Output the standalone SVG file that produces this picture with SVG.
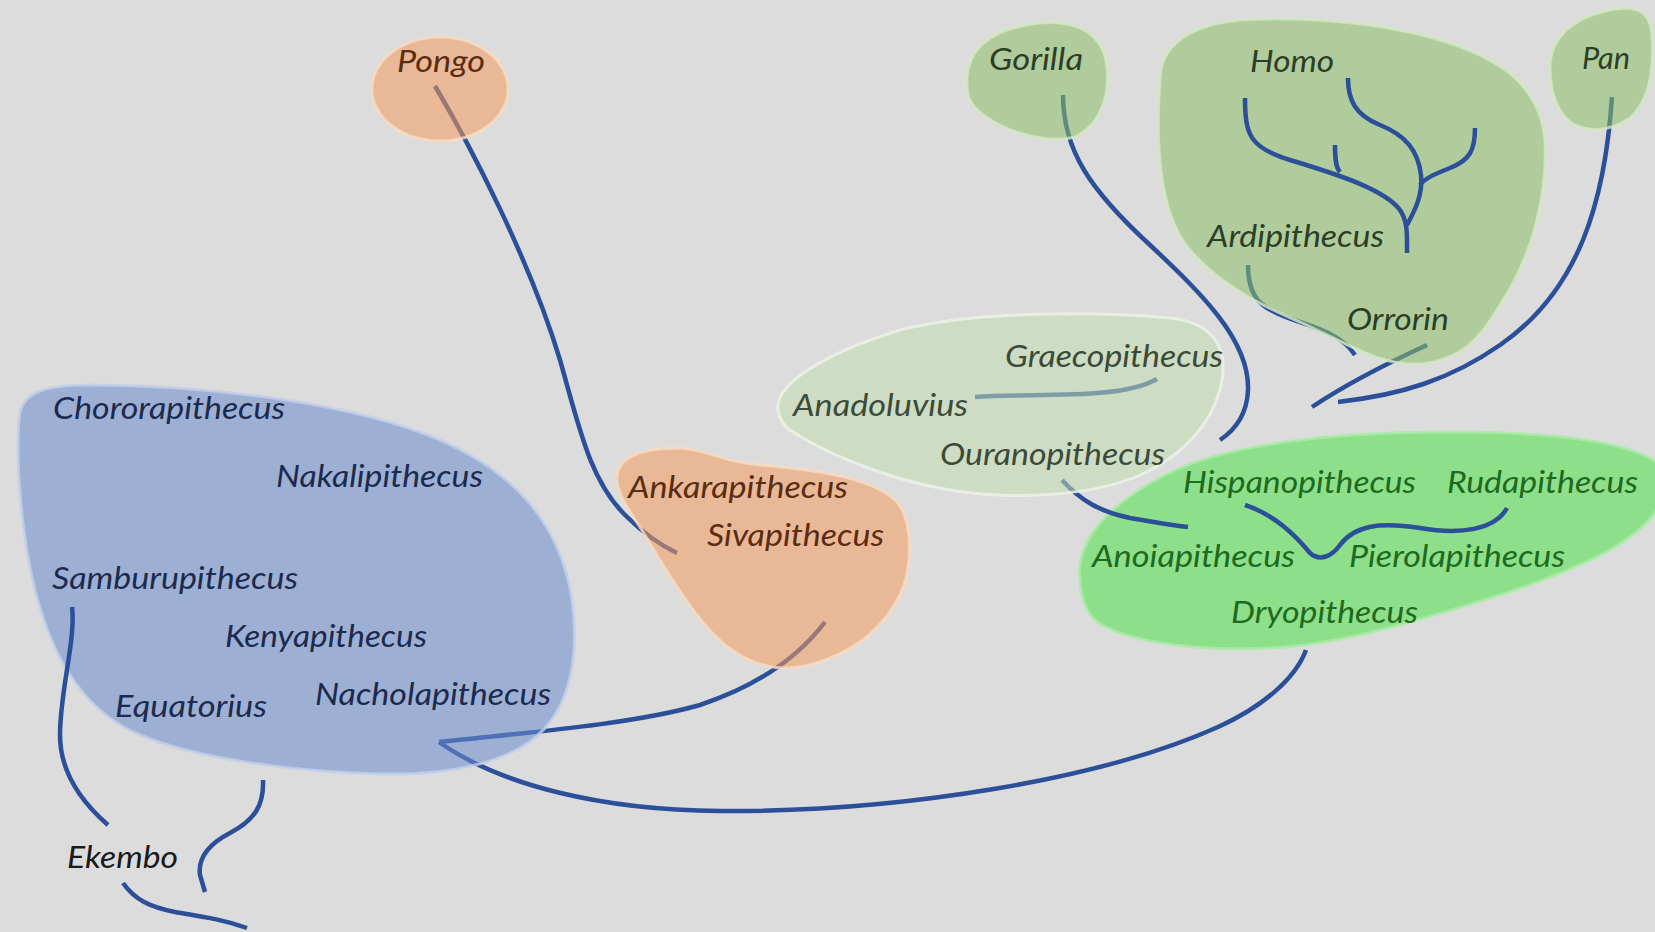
<svg xmlns="http://www.w3.org/2000/svg" width="1655" height="932" viewBox="0 0 1655 932">
<defs>
<style>
.bg{fill:#dcdcdc}
.blob{stroke-width:3;stroke-opacity:0.8}
.blue{fill:#698ccd;fill-opacity:0.55;stroke:#c3d0ea}
.orange{fill:#f49b5c;fill-opacity:0.55;stroke:#f8dcc2}
.green{fill:#8cbf68;fill-opacity:0.55;stroke:#d4e8c4}
.pale{fill:#c1dcaf;fill-opacity:0.55;stroke:#eef4e8}
.bright{fill:#8ddf8a;stroke:#a9eca6}
.l{fill:none;stroke:#2b4f99;stroke-width:4.5;stroke-linecap:butt}
text{font-family:Lato,"Open Sans","Liberation Sans",sans-serif;font-style:italic;font-size:30px}
.tb{fill:#1c2a4d}
.to{fill:#5a2c12}
.tg{fill:#2c3f26}
.tp{fill:#3b4b38}
.tbr{fill:#1e6a1e}
.tk{fill:#1a1a1a}
</style>
</defs>
<rect class="bg" x="0" y="0" width="1655" height="932"/>

<g id="node-dryopithecus-group">
<path class="blob bright" d="M1080,580 C1075,540 1110,500 1180,468 C1250,440 1350,432 1450,432 C1550,432 1630,440 1660,465 L1660,505 C1640,540 1590,565 1500,595 C1420,620 1340,645 1270,648 C1190,652 1120,640 1095,620 C1085,610 1081,595 1080,580 Z"/>
<text class="tbr" x="1183" y="493" textLength="233" lengthAdjust="spacingAndGlyphs">Hispanopithecus</text>
<text class="tbr" x="1447" y="493" textLength="191" lengthAdjust="spacingAndGlyphs">Rudapithecus</text>
<text class="tbr" x="1092" y="567" textLength="203" lengthAdjust="spacingAndGlyphs">Anoiapithecus</text>
<text class="tbr" x="1349" y="567" textLength="216" lengthAdjust="spacingAndGlyphs">Pierolapithecus</text>
<text class="tbr" x="1231" y="623" textLength="187" lengthAdjust="spacingAndGlyphs">Dryopithecus</text>
</g>

<g id="connectors">
<path class="l" d="M435,86 C470,145 530,260 560,360 C580,430 590,480 625,515 C645,535 660,545 677,553"/>
<path class="l" d="M825,622 C800,655 760,685 700,705 C630,725 520,733 439,742"/>
<path class="l" d="M439,742 C500,785 600,810 720,811 C900,812 1100,780 1218,727 C1260,708 1295,680 1306,650"/>
<path class="l" d="M1063,95 C1063,150 1090,190 1150,245 C1200,292 1250,340 1248,390 C1247,415 1235,430 1220,440"/>
<path class="l" d="M975,397 C1040,393 1120,400 1157,379"/>
<path class="l" d="M1062,480 C1080,500 1100,512 1130,518 C1155,522 1170,525 1188,527"/>
<path class="l" d="M1248,265 C1248,300 1262,310 1300,322 C1330,332 1345,340 1355,355"/>
<path class="l" d="M1427,345 C1390,362 1345,385 1312,407"/>
<path class="l" d="M1612,97 C1605,200 1580,290 1500,345 C1450,380 1400,395 1338,402"/>
</g>

<g id="node-pongo">
<ellipse class="blob orange" cx="440" cy="89" rx="68" ry="52"/>
<text class="to" x="397" y="72" textLength="88" lengthAdjust="spacingAndGlyphs">Pongo</text>
</g>

<g id="node-sivapithecus-group">
<path class="blob orange" d="M617,477 C618,460 635,448 680,448 C710,450 720,462 760,465 C820,470 870,478 895,500 C915,520 912,570 900,595 C885,625 860,650 810,665 C770,675 735,660 705,625 C680,595 660,560 640,527 C625,505 616,490 617,477 Z"/>
<text class="to" x="628" y="498" textLength="220" lengthAdjust="spacingAndGlyphs">Ankarapithecus</text>
<text class="to" x="707" y="546" textLength="177" lengthAdjust="spacingAndGlyphs">Sivapithecus</text>
</g>

<g id="node-african-group">
<path class="blob blue" d="M20,412 C25,392 45,385 90,385 C200,385 330,400 420,432 C510,465 560,520 572,600 C580,660 570,720 520,748 C480,770 430,775 380,774 C300,772 200,760 140,735 C80,710 50,650 35,590 C20,530 15,450 20,412 Z"/>
<text class="tb" x="53" y="419" textLength="232" lengthAdjust="spacingAndGlyphs">Chororapithecus</text>
<text class="tb" x="276" y="487" textLength="207" lengthAdjust="spacingAndGlyphs">Nakalipithecus</text>
<text class="tb" x="52" y="589" textLength="246" lengthAdjust="spacingAndGlyphs">Samburupithecus</text>
<text class="tb" x="225" y="647" textLength="202" lengthAdjust="spacingAndGlyphs">Kenyapithecus</text>
<text class="tb" x="115" y="717" textLength="152" lengthAdjust="spacingAndGlyphs">Equatorius</text>
<text class="tb" x="315" y="705" textLength="236" lengthAdjust="spacingAndGlyphs">Nacholapithecus</text>
</g>

<g id="node-ekembo">
<text class="tk" x="67" y="868" textLength="111" lengthAdjust="spacingAndGlyphs">Ekembo</text>
</g>

<g id="node-ouranopithecus-group">
<path class="blob pale" d="M778,410 C775,385 820,355 900,330 C980,310 1100,312 1170,318 C1210,322 1228,345 1222,380 C1215,420 1185,455 1140,475 C1090,497 1010,500 950,490 C880,478 820,450 790,430 C782,424 779,418 778,410 Z"/>
<text class="tp" x="1005" y="367" textLength="218" lengthAdjust="spacingAndGlyphs">Graecopithecus</text>
<text class="tp" x="793" y="416" textLength="175" lengthAdjust="spacingAndGlyphs">Anadoluvius</text>
<text class="tp" x="940" y="465" textLength="225" lengthAdjust="spacingAndGlyphs">Ouranopithecus</text>
</g>

<g id="node-gorilla">
<path class="blob green" d="M967,85 C965,50 990,28 1040,23 C1080,20 1100,35 1106,60 C1112,95 1100,125 1075,137 C1045,145 1000,130 980,112 C970,105 967,95 967,85 Z"/>
<text class="tg" x="989" y="70" textLength="94" lengthAdjust="spacingAndGlyphs">Gorilla</text>
</g>

<g id="node-hominin-group">
<path class="blob green" d="M1160,80 C1160,45 1190,25 1240,20 C1300,16 1380,22 1440,40 C1500,58 1540,85 1545,140 C1548,200 1530,260 1500,305 C1480,340 1460,360 1420,364 C1380,366 1350,345 1300,322 C1260,305 1220,285 1190,250 C1160,215 1155,150 1160,80 Z"/>
<text class="tg" x="1250" y="72" textLength="84" lengthAdjust="spacingAndGlyphs">Homo</text>
<text class="tg" x="1207" y="247" textLength="177" lengthAdjust="spacingAndGlyphs">Ardipithecus</text>
<text class="tg" x="1347" y="330" textLength="102" lengthAdjust="spacingAndGlyphs">Orrorin</text>
</g>

<g id="node-pan">
<path class="blob green" d="M1550,67 C1550,40 1570,18 1610,10 C1635,5 1650,10 1652,35 C1654,70 1650,100 1630,118 C1610,132 1585,133 1570,122 C1556,110 1550,90 1550,67 Z"/>
<text class="tg" x="1582" y="69" textLength="48" lengthAdjust="spacingAndGlyphs">Pan</text>
</g>

<g id="connectors-top">
<path class="l" d="M1245,98 C1245,135 1250,148 1290,160 C1340,175 1385,190 1400,210 C1408,222 1407,235 1407,253"/>
<path class="l" d="M1335,145 C1335,160 1336,168 1340,172"/>
<path class="l" d="M1348,78 C1348,100 1355,115 1380,125 C1405,135 1418,150 1421,175 C1423,195 1415,210 1407,225"/>
<path class="l" d="M1475,128 C1475,150 1470,160 1450,168 C1435,174 1425,178 1420,185"/>
<path class="l" d="M1245,505 C1275,515 1295,535 1310,553 C1320,562 1332,556 1340,545 C1355,525 1380,522 1420,528 C1460,535 1495,530 1507,508"/>
<path class="l" d="M72,607 C76,640 60,690 60,735 C60,775 85,805 108,825"/>
<path class="l" d="M263,780 C264,805 255,820 230,833 C205,846 198,860 200,875 L205,892"/>
<path class="l" d="M123,883 C135,900 150,907 175,912 C205,917 225,920 247,928"/>
</g>
</svg>
